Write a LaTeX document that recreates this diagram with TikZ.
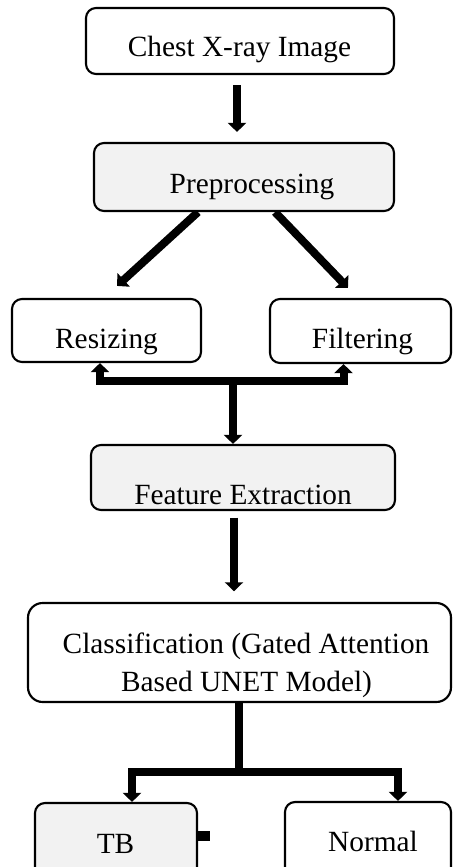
\documentclass[tikz,border=0pt]{standalone}
\usepackage{fontspec}
\setmainfont{Liberation Serif}
\usetikzlibrary{arrows.meta,backgrounds,calc}

\begin{document}
\begin{tikzpicture}[
  x=0.75pt, y=-0.75pt,
  stage/.style={
    rectangle, draw=black, line width=1.6pt,
    rounded corners=7.5pt, fill=white, inner sep=0pt
  },
  shaded/.style={stage, fill=gray!10},
  lbl/.style={anchor=base, inner sep=0pt, font=\fontsize{22}{26}\selectfont},
  arr/.style={-{Triangle[width=13.5pt,length=6.75pt]}, line width=6pt,
    line join=miter},
  fat/.style={line width=6pt}
]
\clip (0,0) rectangle (453,867);

% Stage boxes
\node[stage, minimum width=231pt, minimum height=49.5pt] (chest) at (240,41) {};
\node[shaded, minimum width=225pt, minimum height=51pt] (prep) at (244,177) {};
\node[stage, minimum width=141.75pt, minimum height=47.25pt] (resize) at (106.5,330.5) {};
\node[stage, minimum width=135.75pt, minimum height=48pt] (filter) at (360.5,331) {};
\node[shaded, minimum width=228pt, minimum height=48.75pt] (feature) at (243,477.5) {};
\node[stage, rounded corners=11pt, minimum width=317.25pt, minimum height=74.25pt]
  (classif) at (239.5,652.5) {};
\node[shaded, minimum width=121.5pt, minimum height=63pt] (tb) at (116,845) {};
\node[stage, minimum width=124.5pt, minimum height=64.5pt] (normal) at (368,845) {};

% Box texts
\node[lbl] (tchest) at (239.5,57) {Chest X-ray Image};
\node[lbl] (tprep) at (252,193) {Preprocessing};
\node[lbl] (tresize) at (106.5,348) {Resizing};
\node[lbl] (tfilter) at (362.5,348) {Filtering};
\node[lbl] (tfeature) at (243,504) {Feature Extraction};
\node[lbl] (tcls1) at (246,653) {Classification (Gated Attention};
\node[lbl] (tcls2) at (246.5,691) {Based UNET Model)};
\node[lbl] (ttb) at (115.5,853) {TB};
\node[lbl] (tnormal) at (373,851) {Normal};

% Junction points
\coordinate (merge) at (233,381);
\coordinate (split) at (239,772);

% Flow arrows
\begin{scope}[on background layer]
\draw[arr, shorten <=7.5pt, shorten >=7.5pt] ([xshift=-2.25pt]chest.south)
  -- ([xshift=-2.25pt]chest.south |- prep.north);
\draw[arr] ([xshift=-34.5pt]prep.south)
  -- ([xshift=7.9pt,yshift=9pt]resize.north);
\draw[arr] ([xshift=23.25pt]prep.south)
  -- ([xshift=-9.4pt,yshift=7.5pt]filter.north);

\draw[arr] (merge) -| ([xshift=-4.9pt]resize.south);
\draw[arr] (merge) -| ([xshift=-12.75pt]filter.south);
\draw[arr] (merge) -- (merge |- feature.north);

\draw[arr, shorten <=5pt, shorten >=8pt] ([xshift=-6.75pt]feature.south)
  -- ([xshift=-6.75pt]feature.south |- classif.north);

\draw[fat] (split |- classif.south) -- ([yshift=-3pt]split);
\draw[arr] (split) -| ([xshift=12pt]tb.north);
\draw[arr] (split) -| ([xshift=22.5pt]normal.north);

\draw[line width=7.5pt] ([yshift=6.75pt]tb.east) -- ++(12,0);
\end{scope}

\end{tikzpicture}
\end{document}
